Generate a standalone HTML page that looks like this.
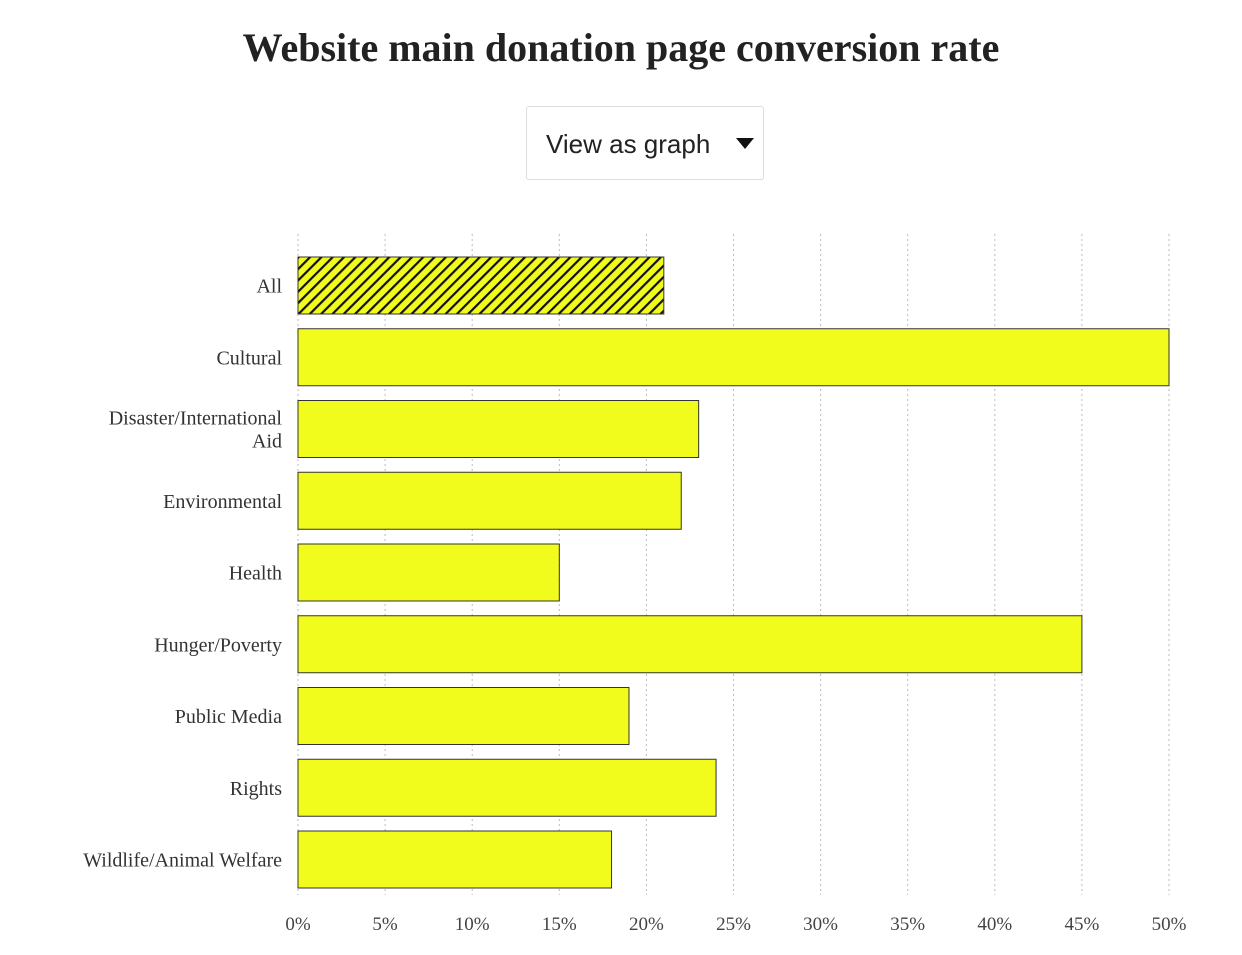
<!DOCTYPE html>
<html><head><meta charset="utf-8"><style>
body{margin:0;background:#fff;width:1242px;height:955px;overflow:hidden;font-family:"Liberation Serif",serif;}
#title{position:absolute;top:24px;left:0;width:1242px;text-align:center;font-size:40px;font-weight:bold;color:#222;margin:0;}
#dd{position:absolute;left:526px;top:106px;width:238px;height:74px;border:1px solid #ddd;border-radius:3px;box-sizing:border-box;font-family:"Liberation Sans",sans-serif;font-size:26px;color:#222;}
#dd span{position:absolute;left:19px;top:22px;}
#dd i{position:absolute;left:209px;top:31px;width:0;height:0;border-left:9px solid transparent;border-right:9px solid transparent;border-top:11px solid #111;}
svg{position:absolute;left:0;top:0;}
</style></head><body>
<h1 id="title">Website main donation page conversion rate</h1>
<div id="dd"><span>View as graph</span><i></i></div>
<svg id="chart" width="1242" height="955">
<defs><pattern id="hatch" patternUnits="userSpaceOnUse" width="8" height="8" patternTransform="rotate(-45)"><rect width="8" height="8" fill="#f2fc1c"/><rect y="0" width="8" height="2.2" fill="#111"/></pattern></defs>
</svg>
<script>
const categories=["All","Cultural","Disaster/International|Aid","Environmental","Health","Hunger/Poverty","Public Media","Rights","Wildlife/Animal Welfare"];
const values=[21,50,23,22,15,45,19,24,18];
const ticks=[0,5,10,15,20,25,30,35,40,45,50];
const NS="http://www.w3.org/2000/svg";
const svg=document.getElementById('chart');
const x=v=>298+v*(1169-298)/50;
const y=i=>257+i*71.75;
const bh=57;
function mk(t,a){const e=document.createElementNS(NS,t);for(const k in a)e.setAttribute(k,a[k]);svg.appendChild(e);return e;}
ticks.forEach(t=>{
 const g=mk('line',{x1:x(t),x2:x(t),y1:234,y2:895,stroke:'#bbb','stroke-dasharray':'2 3'});
 
 
 const l=mk('text',{x:x(t),y:930,'text-anchor':'middle','font-size':19,fill:'#444','font-family':'Liberation Serif,serif'});
 l.textContent=t+'%';
 
 
});
categories.forEach((c,i)=>{
 const r=mk('rect',{x:x(0),y:y(i),width:x(values[i])-x(0),height:bh,fill:i==0?'url(#hatch)':'#f2fc1c',stroke:'#333','stroke-width':1});
 
 
 const parts=c.split('|');
 const cy=y(i)+bh/2;
 parts.forEach((p,j)=>{
  const t=mk('text',{x:282,y:cy+7+(j-(parts.length-1)/2)*23,'text-anchor':'end','font-size':20,fill:'#333','font-family':'Liberation Serif,serif'});
  t.textContent=p;
  
  
 });
});
</script>
</body></html>
